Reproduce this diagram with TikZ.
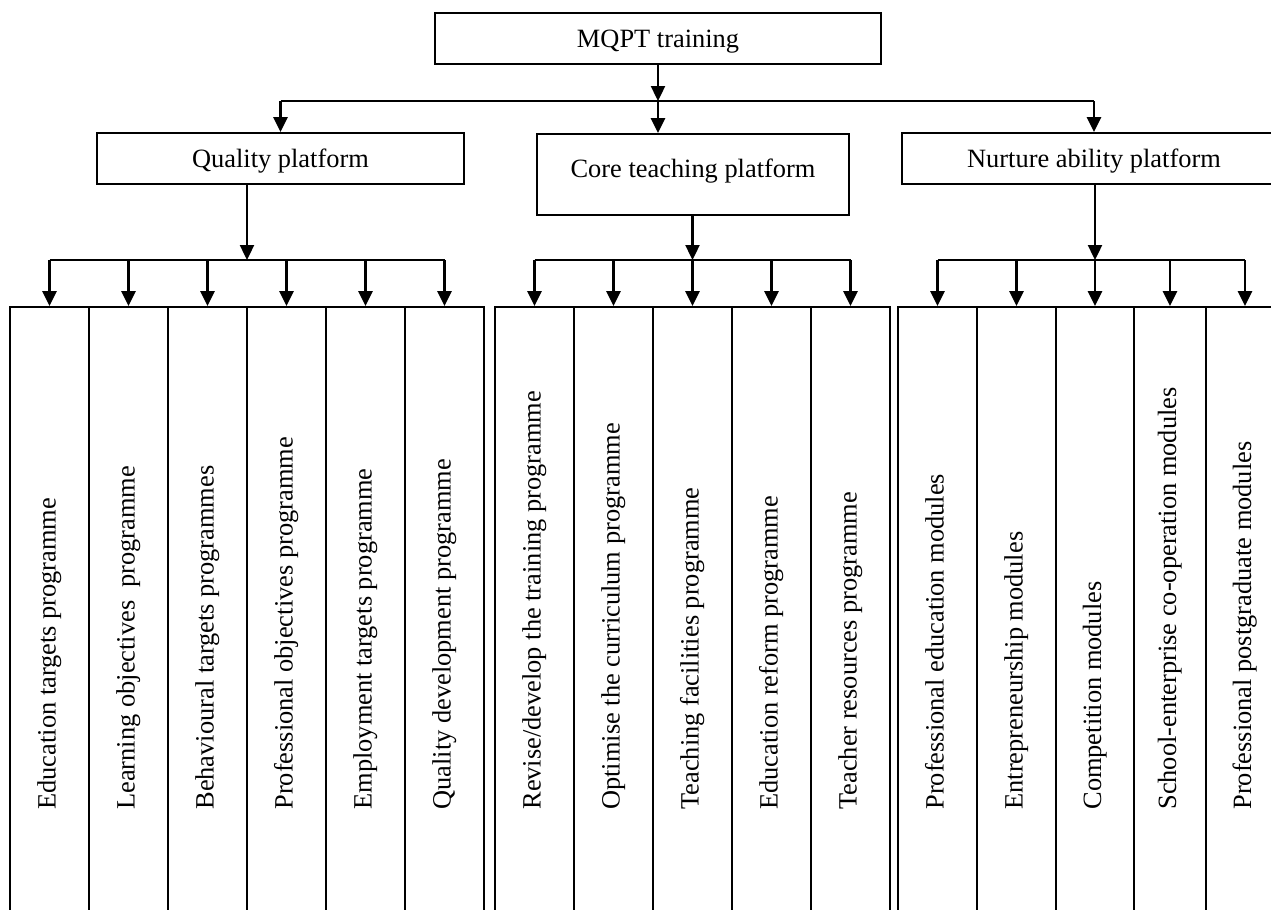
\documentclass[tikz,border=0pt]{standalone}
\usepackage{fontspec}
\setmainfont{Liberation Serif}
\usetikzlibrary{arrows.meta}
\tikzset{
  box/.style={draw,line width=0.9pt,inner sep=0pt,
    text height=9pt,text depth=0.5pt,
    font=\fontsize{13.2}{15}\selectfont},
  col/.style={draw,line width=0.9pt,inner sep=0pt,minimum height=360pt},
  coltext/.style={rotate=90,anchor=base west,inner sep=0pt,
    font=\fontsize{13.2}{15}\selectfont},
  link/.style={line width=1.2pt},
  arr/.style={link,-{Triangle[width=7pt,length=7.5pt]}}
}
\begin{document}
\begin{tikzpicture}[x=0.5pt,y=-0.5pt]
  \useasboundingbox (0,0) rectangle (1271,910);
  \clip (0,0) rectangle (1271,910);
  % training and the three platforms
  \node[box,minimum width=223pt,minimum height=25.5pt]
    (mqpt) at (658,38.5) {MQPT training};
  \node[box,minimum width=183.5pt,minimum height=25.5pt]
    (quality) at (280.5,158.5) {Quality platform};
  \node[box,minimum width=156pt,minimum height=40.5pt,
    text depth=6.5pt]
    (core) at (693,174.5) {Core teaching platform};
  \node[box,minimum width=192pt,minimum height=25.5pt]
    (nurture) at (1094,158.5) {Nurture ability platform};
  \coordinate (top) at (658,101);
  \draw[arr] (mqpt.south) -- (top);
  \draw[link] (quality.north |- top) -- (nurture.north |- top);
  \draw[arr] (quality.north |- top) -- (quality.north);
  \draw[arr] (top) -- (core.north -| top);
  \draw[arr] (nurture.north |- top) -- (nurture.north);
  % quality columns
  \foreach \x/\t [count=\i] in {49.5/{Education targets programme},
    128.5/{Learning objectives~ programme},
    207.5/{Behavioural targets programmes},
    286.5/{Professional objectives programme},
    365.5/{Employment targets programme},
    444.5/{Quality development programme}}{
    \node[col,minimum width=39.5pt] (q\i) at (\x,667) {};
    \node[coltext] (qt\i) at (\x+6,810) {\t};
  }
  \coordinate (qj) at (247,260);
  \draw[arr] (quality.south -| qj) -- (qj);
  \draw[link] (q1.north |- qj) -- (q6.north |- qj);
  \foreach \i in {1,...,6}
    \draw[arr] (q\i.north |- qj) -- (q\i.north);
  % core columns
  \foreach \x/\t [count=\i] in {534.5/{Revise/develop the training programme},
    613.5/{Optimise the curriculum programme},
    692.5/{Teaching facilities programme},
    771.5/{Education reform programme},
    850.5/{Teacher resources programme}}{
    \node[col,minimum width=39.5pt] (c\i) at (\x,667) {};
    \node[coltext] (ct\i) at (\x+6,810) {\t};
  }
  \coordinate (cj) at (692.5,260);
  \draw[arr] (core.south -| cj) -- (cj);
  \draw[link] (c1.north |- cj) -- (c5.north |- cj);
  \foreach \i in {1,...,5}
    \draw[arr] (c\i.north |- cj) -- (c\i.north);
  % nurture columns
  \foreach \x/\w/\t [count=\i] in {937.5/39.5pt/{Professional education modules},
    1016.5/39.5pt/{Entrepreneurship modules},
    1095/39pt/{Competition modules},
    1170/36pt/{School-enterprise co-operation modules},
    1245/39pt/{Professional postgraduate modules}}{
    \node[col,minimum width=\w] (n\i) at (\x,667) {};
    \node[coltext] (nt\i) at (\x+6,810) {\t};
  }
  \coordinate (nj) at (1095,260);
  \draw[arr] (nurture.south -| nj) -- (nj);
  \draw[link] (n1.north |- nj) -- (n5.north |- nj);
  \foreach \i in {1,...,5}
    \draw[arr] (n\i.north |- nj) -- (n\i.north);
\end{tikzpicture}
\end{document}
